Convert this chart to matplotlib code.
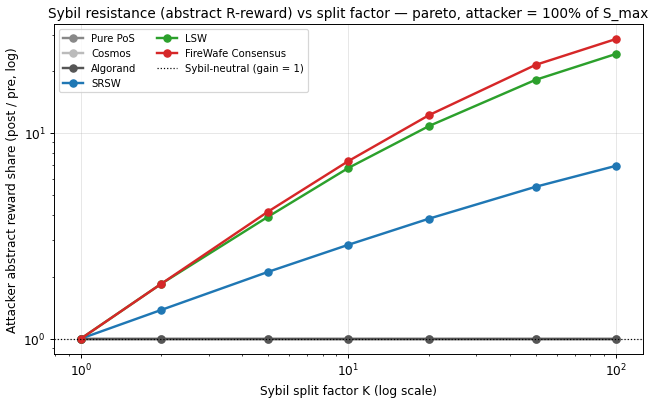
import numpy as np
import matplotlib
matplotlib.use("Agg")
import matplotlib.pyplot as plt

# split factors and attacker gain per protocol
split_k = [1, 2, 5, 10, 20, 50, 100]
pure_pos = [1, 1, 1, 1, 1, 1, 1]
cosmos = [1, 1, 1, 1, 1, 1, 1]
algorand = [1, 1, 1, 1, 1, 1, 1]
srsw = [1.0, 1.38, 2.11, 2.86, 3.83, 5.47, 6.92]
lsw = [1.0, 1.85, 3.91, 6.76, 10.8, 18.1, 24.2]
firewafe = [1.0, 1.85, 4.14, 7.3, 12.2, 21.4, 28.6]

series = [
    ("Pure PoS", pure_pos, "#888888"),
    ("Cosmos", cosmos, "#bbbbbb"),
    ("Algorand", algorand, "#555555"),
    ("SRSW", srsw, "#1f77b4"),
    ("LSW", lsw, "#2ca02c"),
    ("FireWafe Consensus", firewafe, "#d62728"),
]

DPI = 87


def main():
    fig, ax = plt.subplots(figsize=(652 / DPI, 403 / DPI), dpi=DPI)

    for name, vals, col in series:
        ax.plot(split_k, vals, marker="o", markersize=6, linewidth=2, color=col, label=name)

    ax.axhline(1.0, color="black", linestyle=":", linewidth=1, label="Sybil-neutral (gain = 1)")

    ax.set_xscale("log")
    ax.set_yscale("log")
    ax.set_xlabel("Sybil split factor K (log scale)")
    ax.set_ylabel("Attacker abstract reward share (post / pre, log)")
    ax.set_title("Sybil resistance (abstract R-reward) vs split factor \u2014 pareto, attacker = 100% of S_max",
                 fontsize=11.3)
    ax.grid(True, alpha=0.3)
    ax.legend(loc="upper left", ncol=2, fontsize="small")

    fig.subplots_adjust(left=0.083, right=0.986, top=0.938, bottom=0.12)
    fig.savefig("out.png", dpi=DPI)


if __name__ == "__main__":
    main()
